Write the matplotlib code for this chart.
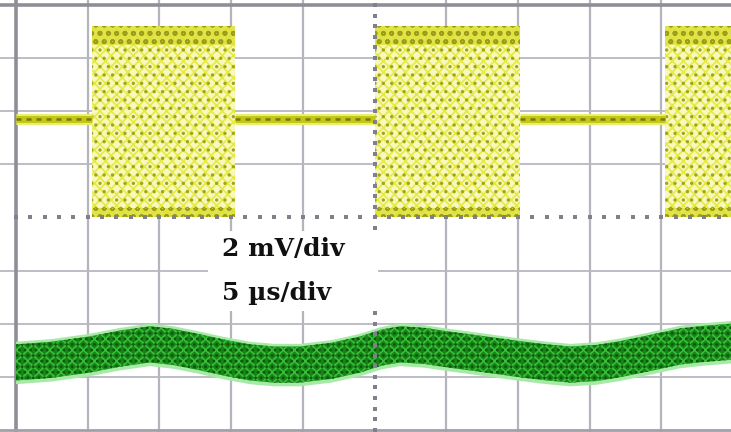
import matplotlib
matplotlib.use("Agg")
import matplotlib.pyplot as plt
import matplotlib.patches as patches

# Screen in divisions: x 0..10, y -4..4 (centre 0)
X_DIVS = list(range(1, 10))
Y_DIVS = [-3, -2, -1, 1, 2, 3]

# Channel 1 (yellow): burst intervals and levels, in divisions
BURST_STARTS = [1.06, 5.01, 9.05]
BURST_ENDS = [3.05, 7.03, 10.2]
BURST_TOP = 3.6
BURST_BOTTOM = 0.0
BASE_LEVEL = 1.85
BASE_SEGMENTS = [(0.0, 1.06), (3.05, 5.01), (7.03, 9.05)]

# Channel 2 (green): centre of the noisy band
GREEN_X = [0.0, 0.5, 1.03, 1.45, 1.87, 2.2, 2.57, 2.9, 3.26, 3.6, 3.96, 4.4, 4.8, 5.1, 5.36,
           5.7, 6.05, 6.55, 7.03, 7.4, 7.73, 8.1, 8.42, 8.85, 9.26, 9.6, 9.97, 10.2]
GREEN_Y = [-2.73, -2.68, -2.58, -2.47, -2.39, -2.44, -2.54, -2.64, -2.73, -2.77, -2.77, -2.70,
           -2.58, -2.45, -2.39, -2.42, -2.49, -2.58, -2.67, -2.73, -2.77, -2.74, -2.67, -2.55,
           -2.43, -2.38, -2.34, -2.32]
GREEN_HALF = 0.34

LABELS = ["2 mV/div", "5 \u00b5s/div"]

figure = plt.figure(figsize=(7.31, 4.32), dpi=100)
axes = figure.add_axes([0, 0, 1, 1])
axes.set_xlim(-0.223, 9.97)
axes.set_ylim(-4.04, 4.094)
axes.axis("off")

# Graticule
for x in X_DIVS:
    if x != 5:
        axes.axvline(x, color="#b4b4bc", lw=1.6, zorder=1)
for y in Y_DIVS:
    axes.axhline(y, color="#b8b8c0", lw=1.3, zorder=1)
axes.axvline(0, color="#8e8e96", lw=2.6, zorder=1)
axes.axhline(4, color="#8e8e96", lw=2.6, zorder=1)
axes.axhline(-4, color="#a0a0a8", lw=2.0, zorder=1)

# Centre dotted axes
dots_x = [i * 0.2 for i in range(0, 51)]
dots_y = [-4 + i * 0.2 for i in range(0, 41)]
axes.plot(dots_x, [0] * len(dots_x), ls="none", marker="s", ms=2.6, mew=0, color="#80808c", zorder=6)
axes.plot([5] * len(dots_y), dots_y, ls="none", marker="s", ms=2.6, mew=0, color="#80808c", zorder=6)

# Yellow bursts
plt.rcParams["hatch.linewidth"] = 1.2
for x0, x1 in zip(BURST_STARTS, BURST_ENDS):
    axes.fill_between([x0, x1], BURST_BOTTOM, BURST_TOP, facecolor="#f6f8c0", lw=0, zorder=2)
    axes.fill_between([x0, x1], BURST_BOTTOM, BURST_TOP, facecolor="none", edgecolor="#e6ea40",
                      hatch="xxx", lw=0, zorder=3)
    axes.fill_between([x0, x1], BURST_BOTTOM, BURST_TOP, facecolor="none", edgecolor="#a2a41c",
                      hatch="..", lw=0, zorder=3)
    axes.fill_between([x0, x1], BURST_TOP - 0.35, BURST_TOP, facecolor="#dce034", edgecolor="#8e8e10",
                      hatch="oo", lw=0, alpha=0.8, zorder=4)
    axes.fill_between([x0, x1], BURST_BOTTOM, BURST_BOTTOM + 0.18, facecolor="#dce034", edgecolor="#8e8e10",
                      hatch="oo", lw=0, alpha=0.8, zorder=4)

# Yellow baseline
for x0, x1 in BASE_SEGMENTS:
    axes.plot([x0, x1], [BASE_LEVEL, BASE_LEVEL], color="#eaee70", lw=8, solid_capstyle="butt", zorder=4)
    axes.plot([x0, x1], [BASE_LEVEL, BASE_LEVEL], color="#c2c618", lw=5, solid_capstyle="butt", zorder=4)
    axes.plot([x0, x1], [BASE_LEVEL, BASE_LEVEL], color="#7a7a08", lw=1.8, ls=(0, (2, 2)), zorder=5)

# Green trace
low = [y - GREEN_HALF for y in GREEN_Y]
high = [y + GREEN_HALF for y in GREEN_Y]
low2 = [y - GREEN_HALF - 0.07 for y in GREEN_Y]
high2 = [y + GREEN_HALF + 0.05 for y in GREEN_Y]
axes.fill_between(GREEN_X, low2, high2, facecolor="#a6eaa6", lw=0, zorder=2)
axes.fill_between(GREEN_X, low, high, facecolor="#1a821a", lw=0, zorder=3)
axes.fill_between(GREEN_X, low, high, facecolor="none", edgecolor="#36c436", hatch="xxx", lw=0, zorder=4)
axes.fill_between(GREEN_X, low, high, facecolor="none", edgecolor="#0c560c", hatch="...", lw=0, zorder=4)

# Label box
axes.add_patch(patches.Rectangle((2.68, -1.77), 2.37, 1.51, facecolor="white", edgecolor="none", zorder=7))
axes.text(2.87, -0.73, LABELS[0], fontsize=18, fontweight="bold", family="DejaVu Serif",
          va="baseline", ha="left", color="#111111", zorder=8)
axes.text(2.87, -1.55, LABELS[1], fontsize=18, fontweight="bold", family="DejaVu Serif",
          va="baseline", ha="left", color="#111111", zorder=8)

figure.savefig("out.png", dpi=100)
